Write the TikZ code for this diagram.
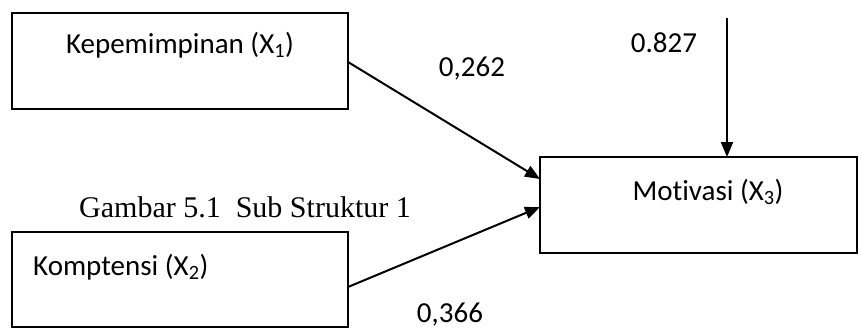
\documentclass[tikz,border=0pt]{standalone}
\usepackage{fontspec}
\setmainfont{Carlito}[RawFeature=-liga]
\newfontfamily\captionfont{Liberation Serif}
\usetikzlibrary{arrows.meta}
\begin{document}
\begin{tikzpicture}[x=1pt,y=-1pt,
  varbox/.style={draw,line width=2pt,inner sep=0pt},
  path/.style={line width=2pt,-{Triangle[length=15pt,width=12pt]}},
  lbl/.style={font=\fontsize{29}{34}\selectfont,inner sep=0pt},
  ]
  \useasboundingbox (0,0) rectangle (862,329);
  % variable boxes
  \draw[varbox] (12,13) rectangle (348,109);
  \node[lbl] (x1) at (180,45) {Kepemimpinan (X\textsubscript{1})};
  \draw[varbox] (12,232) rectangle (348,327);
  \node[lbl,anchor=west] (x2) at (33,267) {Komptensi (X\textsubscript{2})};
  \draw[varbox] (540,157) rectangle (857,253);
  \node[lbl] (x3) at (708,192) {Motivasi (X\textsubscript{3})};
  % anchors for the paths
  \coordinate (a1) at (348,62);
  \coordinate (b1) at (540,179);
  \coordinate (a2) at (348,287);
  \coordinate (b2) at (540,207);
  \coordinate (e0) at (727,18);
  \coordinate (e1) at (727,157);
  \draw[path] (a1) -- (b1);
  \draw[path] (a2) -- (b2);
  \draw[path] (e0) -- (e1);
  % coefficients
  \node[lbl] (p1) at (472,69) {0,262};
  \node[lbl] (p2) at (450,315) {0,366};
  \node[lbl] (pe) at (664,43) {0.827};
  % caption
  \node[font=\captionfont\fontsize{30}{34}\selectfont,inner sep=0pt] (cap) at (245,207) {Gambar 5.1\ \ Sub Struktur 1};
\end{tikzpicture}
\end{document}
